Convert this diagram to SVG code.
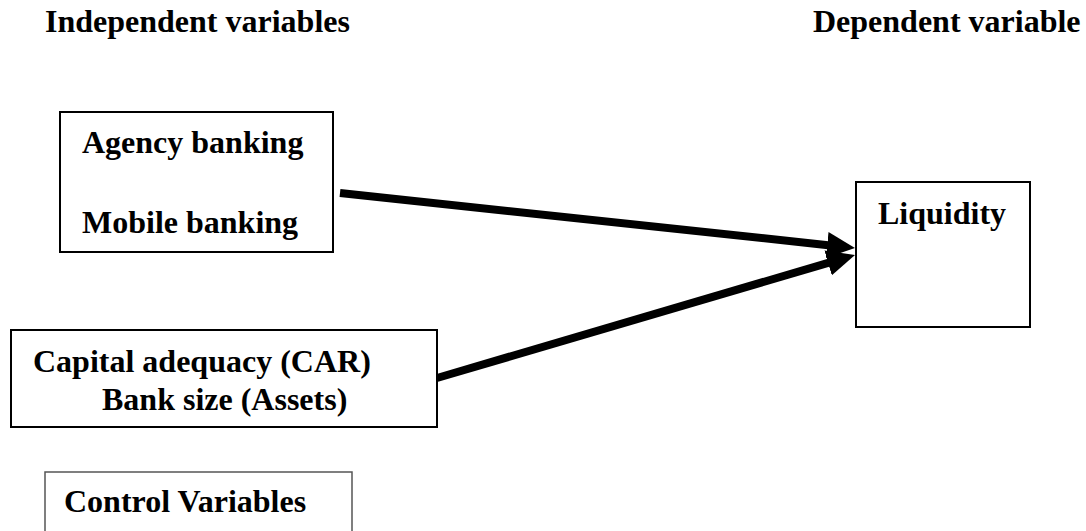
<svg xmlns="http://www.w3.org/2000/svg" width="1086" height="531" viewBox="0 0 1086 531">
<style>
text{font-family:"Liberation Serif","Times New Roman",serif;font-weight:bold;font-size:32px;fill:#000}
.box{fill:#fff;stroke:#000;stroke-width:2}
.thin{fill:#fff;stroke:#555;stroke-width:1.5}
.conn{stroke:#000;stroke-width:8;fill:none}
</style>
<defs>
<marker id="ah" markerUnits="userSpaceOnUse" markerWidth="28" markerHeight="26" refX="8" refY="13" orient="auto" viewBox="0 0 28 26">
<path d="M0,0 L28,13 L0,26 z" fill="#000"/>
</marker>
</defs>
<rect width="1086" height="531" fill="#fff"/>
<g id="header-independent"><text x="45" y="32">Independent variables</text></g>
<g id="header-dependent"><text x="813" y="32">Dependent variable</text></g>
<g id="node-banking">
<rect class="box" x="60" y="112" width="273" height="140"/>
<text x="82" y="153">Agency banking</text>
<text x="82" y="233">Mobile banking</text>
</g>
<g id="node-liquidity">
<rect class="box" x="856" y="182" width="174" height="145"/>
<text x="878" y="224">Liquidity</text>
</g>
<g id="node-capital">
<rect class="box" x="11" y="330" width="426" height="97"/>
<text x="33" y="372">Capital adequacy (CAR)</text>
<text x="102" y="410">Bank size (Assets)</text>
</g>
<g id="node-control">
<rect class="thin" x="45" y="472" width="307" height="80"/>
<text x="64" y="512">Control Variables</text>
</g>
<g id="connectors">
<line class="conn" x1="340" y1="193" x2="835.1" y2="245.9" marker-end="url(#ah)"/>
<line class="conn" x1="437" y1="378" x2="835.8" y2="260.6" marker-end="url(#ah)"/>
</g>
</svg>
